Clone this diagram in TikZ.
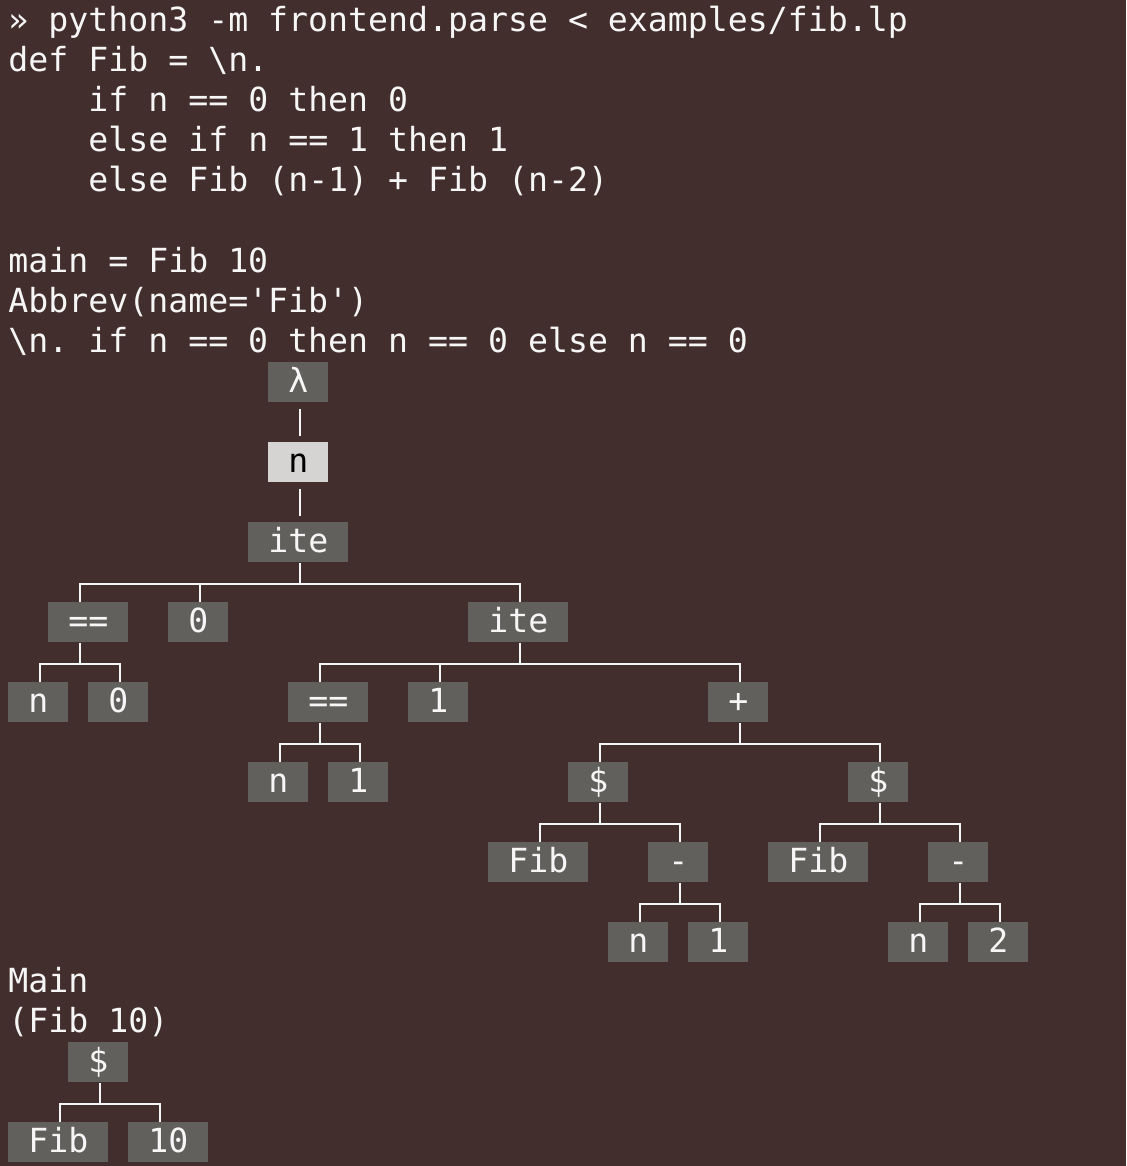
\documentclass[tikz,border=0pt]{standalone}
\usepackage{fontspec}
\setmonofont{DejaVu Sans Mono}
\usetikzlibrary{calc}
\definecolor{bgc}{RGB}{66,46,45}
\definecolor{boxc}{RGB}{98,96,92}
\definecolor{lightc}{RGB}{214,212,210}
\definecolor{txtc}{RGB}{246,246,246}
\newcommand\myfont{\fontsize{16.6pt}{20pt}\selectfont\ttfamily\frenchspacing}
\newcommand\tbox[6][box]{%
  \pgfmathsetmacro\myL{8+20*#3}%
  \pgfmathsetmacro\myT{2+40*#4}%
  \pgfmathsetmacro\myA{20*floor((#5-1)/2)+12}%
  \node[#1, minimum width=#5*10pt, anchor=north west] (#2) at (\myL,\myT) {#6};
  \coordinate (#2-t) at ($(#2.north west)+(\myA,0)$);
  \coordinate (#2-b) at ($(#2.south west)+(\myA,0)$);
}
\newcommand\elbow[2]{\draw[conn] (#1-b) -- ++(0,21) -| (#2-t);}
\begin{document}
\begin{tikzpicture}[x=0.5pt,y=-0.5pt,
  box/.style={fill=boxc, text=txtc, font=\myfont, inner sep=0pt,
    minimum height=20pt, text height=12pt, text depth=2pt},
  lightbox/.style={box, fill=lightc, text=black},
  code/.style={text=txtc, font=\myfont, inner sep=0pt, anchor=base west},
  conn/.style={draw=txtc, line width=1pt}]
\fill[bgc] (0,0) rectangle (1126,1166);
\useasboundingbox (0,0) rectangle (1126,1166);
% code lines
\node[code] (l0) at (8,32) {» python3 -m frontend.parse < examples/fib.lp};
\node[code] (l1) at (8,72) {def Fib = \textbackslash n.};
\node[code] (l2) at (88,112) {if n == 0 then 0};
\node[code] (l3) at (88,152) {else if n == 1 then 1};
\node[code] (l4) at (88,192) {else Fib (n-1) + Fib (n-2)};
\node[code] (l6) at (8,272) {main = Fib 10};
\node[code] (l7) at (8,312) {Abbrev(name='Fib')};
\node[code] (l8) at (8,352) {\textbackslash n. if n == 0 then n == 0 else n == 0};
\node[code] (l24) at (8,992) {Main};
\node[code] (l25) at (8,1032) {(Fib 10)};
% tree 1
\tbox{lam}{13}{9}{3}{λ}
\tbox[lightbox]{nv}{13}{11}{3}{n}
\tbox{ite1}{12}{13}{5}{ite}
\tbox{eqa}{2}{15}{4}{==}
\tbox{za}{8}{15}{3}{0}
\tbox{ite2}{23}{15}{5}{ite}
\tbox{na}{0}{17}{3}{n}
\tbox{zb}{4}{17}{3}{0}
\tbox{eqb}{14}{17}{4}{==}
\tbox{oa}{20}{17}{3}{1}
\tbox{plus}{35}{17}{3}{+}
\tbox{nb}{12}{19}{3}{n}
\tbox{ob}{16}{19}{3}{1}
\tbox{apa}{28}{19}{3}{\$}
\tbox{apb}{42}{19}{3}{\$}
\tbox{fa}{24}{21}{5}{Fib}
\tbox{ma}{32}{21}{3}{-}
\tbox{fb}{38}{21}{5}{Fib}
\tbox{mb}{46}{21}{3}{-}
\tbox{nc}{30}{23}{3}{n}
\tbox{oc}{34}{23}{3}{1}
\tbox{nd}{44}{23}{3}{n}
\tbox{tw}{48}{23}{3}{2}
% tree 2
\tbox{apm}{3}{26}{3}{\$}
\tbox{fm}{0}{28}{5}{Fib}
\tbox{tm}{6}{28}{4}{10}
% connectors
\draw[conn] ($(lam-b)+(0,6)$) -- ($(nv-t)+(0,-6)$);
\draw[conn] ($(nv-b)+(0,6)$) -- ($(ite1-t)+(0,-6)$);
\elbow{ite1}{eqa}\elbow{ite1}{za}\elbow{ite1}{ite2}
\elbow{eqa}{na}\elbow{eqa}{zb}
\elbow{ite2}{eqb}\elbow{ite2}{oa}\elbow{ite2}{plus}
\elbow{eqb}{nb}\elbow{eqb}{ob}
\elbow{plus}{apa}\elbow{plus}{apb}
\elbow{apa}{fa}\elbow{apa}{ma}
\elbow{apb}{fb}\elbow{apb}{mb}
\elbow{ma}{nc}\elbow{ma}{oc}
\elbow{mb}{nd}\elbow{mb}{tw}
\elbow{apm}{fm}\elbow{apm}{tm}
\end{tikzpicture}
\end{document}
